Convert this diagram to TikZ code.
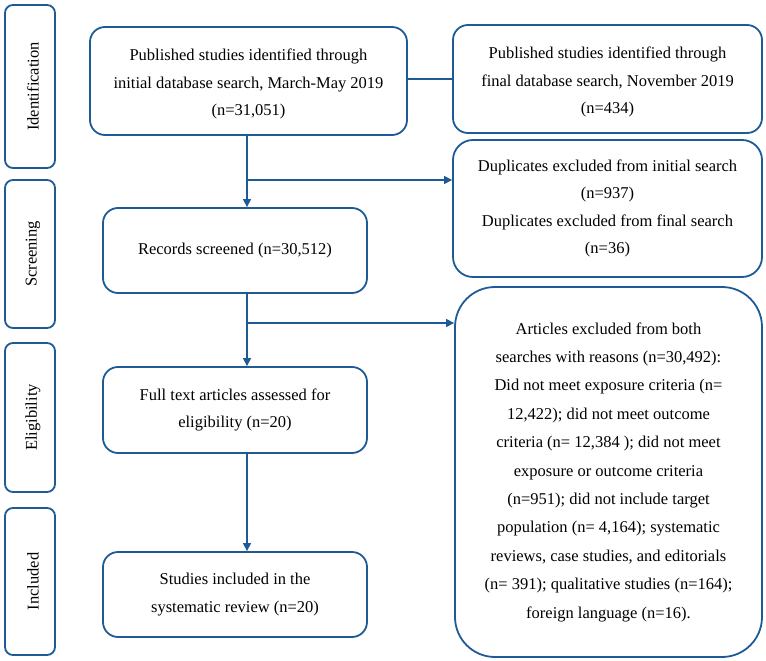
\documentclass[tikz,border=0pt]{standalone}
\usepackage{fontspec}
\setmainfont{Liberation Serif}
\usetikzlibrary{arrows.meta}
\definecolor{bl}{RGB}{30,90,150}
\begin{document}
\begin{tikzpicture}[x=1pt,y=-1pt,
  txt/.style={font=\fontsize{16.5}{27.5}\selectfont, align=center, text=black},
  side/.style={draw=bl, line width=1.8pt, rounded corners=8pt, minimum width=50pt, inner sep=0pt},
  mainbox/.style={draw=bl, line width=1.8pt, rounded corners=15pt, inner sep=0pt, txt},
  conn/.style={draw=bl, line width=1.2pt},
  arr/.style={conn, -{Triangle[width=8pt,length=8pt]}}]
\useasboundingbox (0,0) rectangle (766,661);
% side stage boxes
\node[side, minimum height=163pt] (s1) at (30,86.5) {};
\node[side, minimum height=148pt] (s2) at (30,254) {};
\node[side, minimum height=149pt] (s3) at (30,417.5) {};
\node[side, minimum height=147pt] (s4) at (30,581.5) {};
\node[txt, rotate=90] (t1) at ([xshift=3pt]s1.center) {Identification};
\node[txt, rotate=90] (t2) at ([xshift=3pt]s2.center) {Screening};
\node[txt, rotate=90] (t3) at ([xshift=3pt]s3.center) {Eligibility};
\node[txt, rotate=90] (t4) at ([xshift=3pt]s4.center) {Included};
% main column
\node[mainbox, minimum width=317pt, minimum height=108pt] (b1) at (248.5,81) {};
\node[txt] (b1t) at ([yshift=-3pt]b1.center)
  {Published studies identified through\\initial database search, March-May 2019\\(n=31,051)};
\node[mainbox, minimum width=264pt, minimum height=85pt] (b2) at (235,250.5)
  {Records screened (n=30,512)};
\node[mainbox, minimum width=264pt, minimum height=86pt] (b3) at (235,410)
  {Full text articles assessed for\\eligibility (n=20)};
\node[mainbox, minimum width=264pt, minimum height=85pt] (b4) at (235,594.5)
  {Studies included in the\\systematic review (n=20)};
% right column
\node[mainbox, minimum width=309pt, minimum height=108pt] (r1) at (607.5,79) {};
\node[txt] (r1t) at ([yshift=-3pt]r1.center)
  {Published studies identified through\\final database search, November 2019\\(n=434)};
\node[mainbox, rounded corners=20pt, minimum width=309pt, minimum height=137pt] (r2) at (607.5,208.5)
  {Duplicates excluded from initial search\\(n=937)\\Duplicates excluded from final search\\(n=36)};
\node[mainbox, rounded corners=40pt, minimum width=307pt, minimum height=370pt] (r3) at (608.5,472) {};
\node[txt, font=\fontsize{16.5}{28.4}\selectfont] (r3t) at (r3.center)
  {Articles excluded from both\\searches with reasons (n=30,492):\\Did not meet exposure criteria (n=\\12,422); did not meet outcome\\criteria (n= 12,384 ); did not meet\\exposure or outcome criteria\\(n=951); did not include target\\population (n= 4,164); systematic\\reviews, case studies, and editorials\\(n= 391); qualitative studies (n=164);\\foreign language (n=16).};
% connectors
\coordinate (j1) at (247,180);
\coordinate (j2) at (247,323);
\draw[conn] (b1.east |- r1.west) -- (r1.west);
\draw[arr] (b1.south -| j1) -- (b2.north -| j1);
\draw[arr] (j1) -- (j1 -| r2.west);
\draw[arr] (b2.south -| j2) -- (b3.north -| j2);
\draw[arr] (j2) -- (j2 -| r3.west);
\draw[arr] (b3.south -| j2) -- (b4.north -| j2);
\end{tikzpicture}
\end{document}
